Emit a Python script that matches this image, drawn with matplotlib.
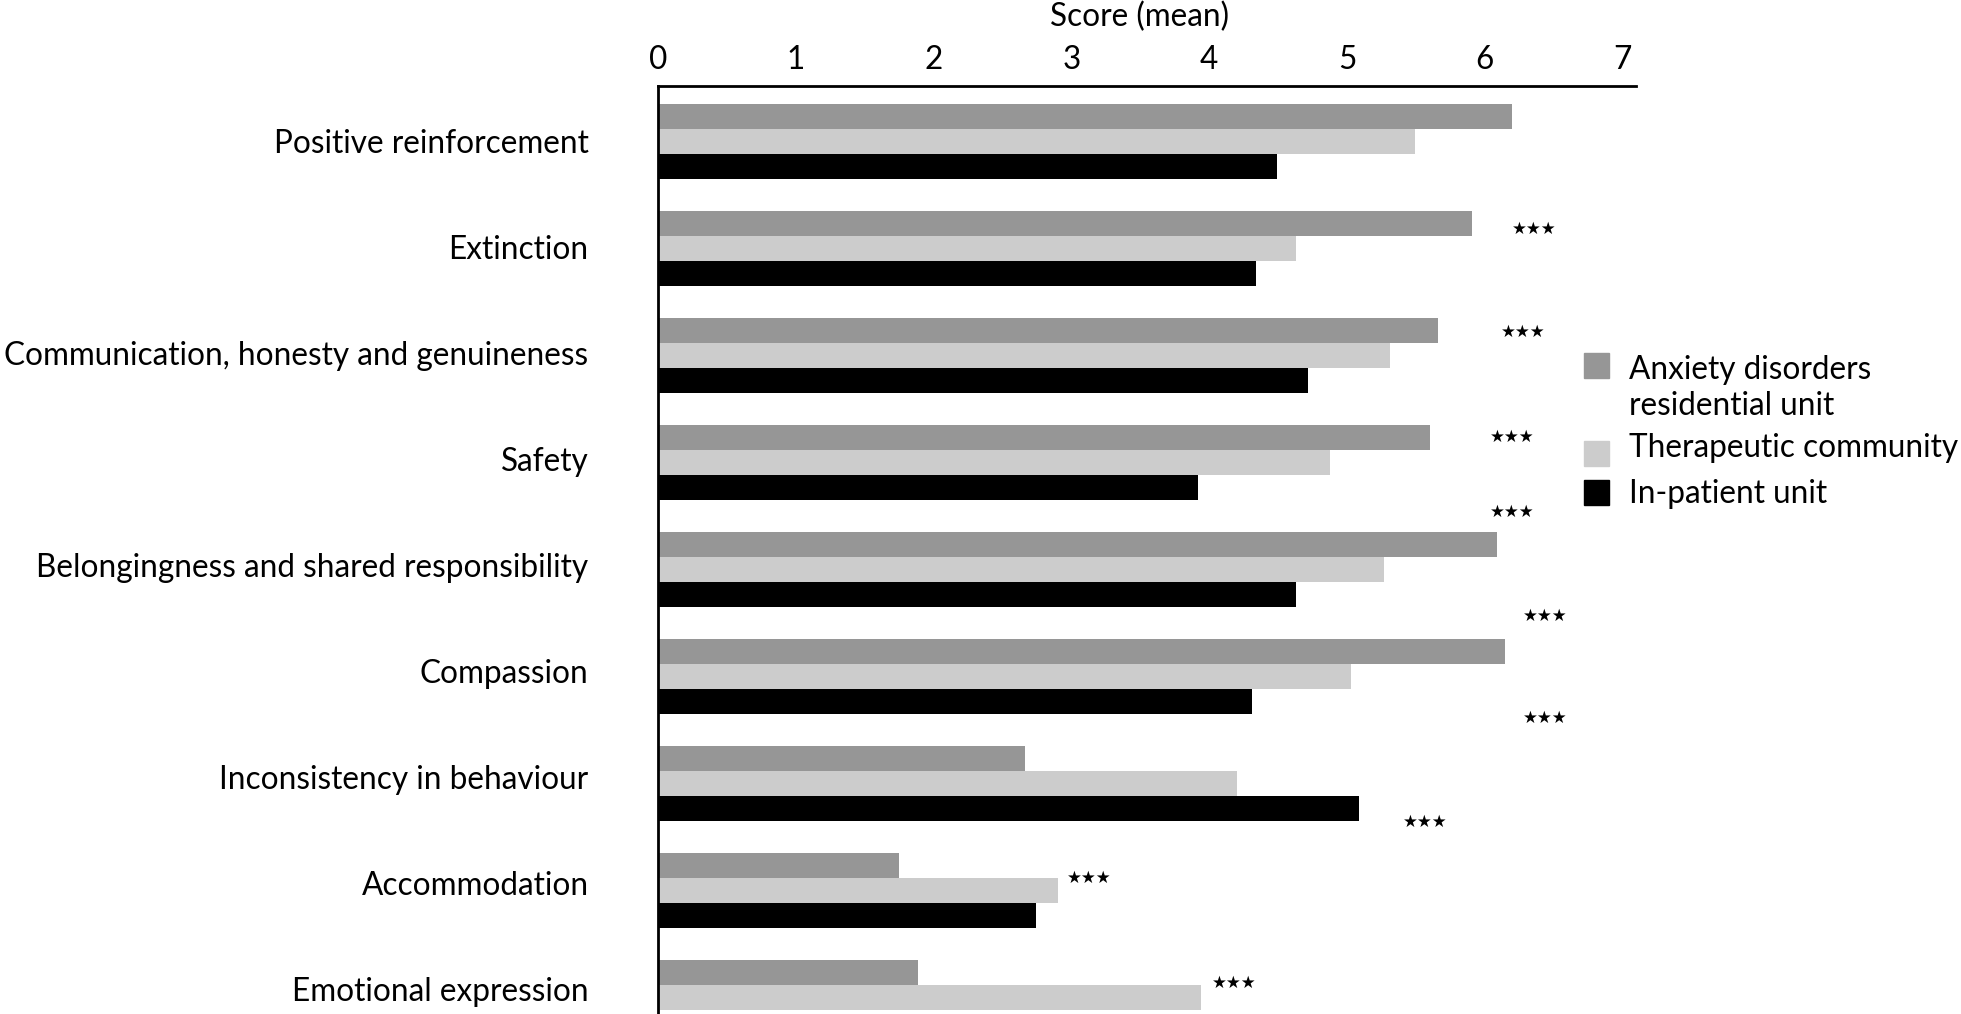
import numpy as np
import matplotlib
matplotlib.use("Agg")
import matplotlib.pyplot as plt
from matplotlib.patches import Rectangle

plt.rcParams['font.family'] = ['Lato', 'DejaVu Sans']

# --- data ---
categories = [
    "Positive reinforcement",
    "Extinction",
    "Communication, honesty and genuineness",
    "Safety",
    "Belongingness and shared responsibility",
    "Compassion",
    "Inconsistency in behaviour",
    "Accommodation",
    "Emotional expression",
]
anxiety = [6.20, 5.91, 5.66, 5.60, 6.09, 6.15, 2.66, 1.75, 1.89]
therapeutic = [5.49, 4.63, 5.31, 4.88, 5.27, 5.03, 4.20, 2.90, 3.94]
inpatient = [4.49, 4.34, 4.72, 3.92, 4.63, 4.31, 5.09, 2.74, np.nan]  # last one cut off

series_names = ["Anxiety disorders\nresidential unit", "Therapeutic community", "In-patient unit"]
colors = ["#969696", "#cccccc", "#000000"]

# significance markers (x in score units, y in category units)
star_x = [6.36, 6.28, 6.20, 6.20, 6.44, 6.44, 5.57, 3.13, 4.18]
star_y = [0.82, 1.78, 2.76, 3.46, 4.43, 5.39, 6.36, 6.88, 7.86]

FS = 22.7

fig = plt.figure(figsize=(19.61, 10.14), dpi=100)
ax = fig.add_axes([658 / 1961, 0.0, 978.4 / 1961, 0.9147])

y = np.arange(len(categories))
h = 0.234
for k, (vals, c) in enumerate(zip([anxiety, therapeutic, inpatient], colors)):
    ax.barh(y + (k - 1) * h, vals, height=h, color=c, label=series_names[k])

for sx, sy in zip(star_x, star_y):
    ax.text(sx, sy, "★★★", ha="center", va="center", fontsize=12,
            family="DejaVu Sans", color="black")

ax.set_xlim(0, 7.1)
ax.set_ylim(8.154, -0.514)
ax.set_xticks(range(8))
ax.xaxis.tick_top()
ax.tick_params(axis="x", length=0, pad=8, labelsize=FS)
# labels in the original sit on a slightly tighter pitch than the bars
ax.set_yticks(y * 0.99)
ax.set_yticklabels(categories)
ax.tick_params(axis="y", length=0, pad=50, labelsize=FS)

for s in ["right", "bottom"]:
    ax.spines[s].set_visible(False)
for s in ["left", "top"]:
    ax.spines[s].set_linewidth(2)

fig.text(1140 / 1961, 1 - 17 / 1014, "Score (mean)", ha="center", va="center", fontsize=FS)

# legend drawn by hand so the square lines up with the first text line
sq_y = [365, 453, 492]
txt_y = [388, 448, 494]
for c, name, sy, ty in zip(colors, series_names, sq_y, txt_y):
    fig.add_artist(Rectangle((1584 / 1961, 1 - (sy + 12.5) / 1014), 25 / 1961, 25 / 1014,
                             transform=fig.transFigure, color=c))
    fig.text(1629 / 1961, 1 - ty / 1014, name, ha="left", va="center",
             fontsize=FS, linespacing=1.25)

fig.savefig("out.png", dpi=100)
